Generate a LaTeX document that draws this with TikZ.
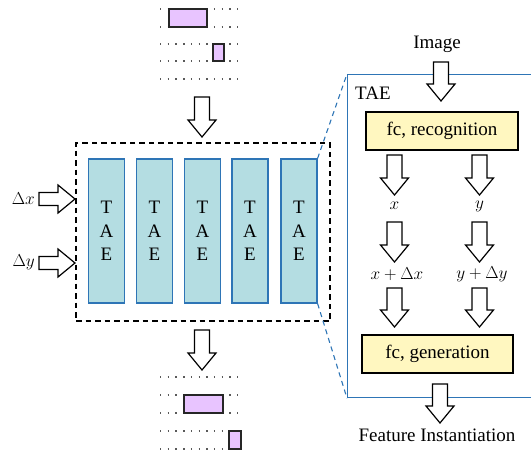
\documentclass[tikz,border=0pt]{standalone}
\usepackage{fontspec}
\setmainfont{Liberation Serif}
\definecolor{taeblue}{RGB}{46,117,182}
\definecolor{taefill}{RGB}{180,221,226}
\definecolor{fcfill}{RGB}{255,247,192}
\definecolor{pinkfill}{RGB}{232,196,255}
\newcommand\darr[4]{%
  \draw[blk] (#2-7.5,#3) -- (#2+7.5,#3) -- (#2+7.5,#3+#4-17) -- (#2+14,#3+#4-17) -- (#2,#3+#4) -- (#2-14,#3+#4-17) -- (#2-7.5,#3+#4-17) -- cycle;
  \coordinate (#1) at (#2,#3);}
\newcommand\rarr[4]{%
  \draw[blk] (#2,#3-6.5) -- (#2+#4-17,#3-6.5) -- (#2+#4-17,#3-14) -- (#2+#4,#3) -- (#2+#4-17,#3+14) -- (#2+#4-17,#3+6.5) -- (#2,#3+6.5) -- cycle;
  \coordinate (#1) at (#2,#3);}
\begin{document}
\begin{tikzpicture}[x=1pt,y=-1pt,
  font=\fontsize{19}{23}\selectfont,
  blk/.style={draw=black, line width=1.2pt, fill=white, line join=miter},
  taebox/.style={draw=taeblue, line width=1.2pt, fill=taefill, minimum width=36pt, minimum height=144pt, inner sep=0pt, align=center, font=\fontsize{19}{23.5}\selectfont},
  fcbox/.style={draw=black, line width=1.1pt, fill=fcfill, minimum width=152pt, minimum height=38pt, inner sep=0pt},
  dotrow/.style={draw=black!65, line width=1.4pt, dash pattern=on 1.4pt off 6.3pt},
  pinkrect/.style={draw=black!85, line width=1.5pt, fill=pinkfill},
  lbl/.style={inner sep=0pt}]
\useasboundingbox (0,0) rectangle (531,450);

% top position pattern
\foreach \yy [count=\i] in {9,27,44,61,79}{
  \coordinate (tl\i) at (160,\yy); \coordinate (tr\i) at (242,\yy);
  \draw[dotrow] (tl\i) -- (tr\i);}
\node[pinkrect, minimum width=38pt, minimum height=18pt, inner sep=0pt] (p1) at (188,18) {};
\node[pinkrect, minimum width=11pt, minimum height=17pt, inner sep=0pt] (p2) at (218.5,52.5) {};

% bottom position pattern
\foreach \yy [count=\i] in {377,395,413,431,449}{
  \coordinate (bl\i) at (160,\yy); \coordinate (br\i) at (242,\yy);
  \draw[dotrow] (bl\i) -- (br\i);}
\node[pinkrect, minimum width=39pt, minimum height=18pt, inner sep=0pt] (p3) at (203.5,404) {};
\node[pinkrect, minimum width=12pt, minimum height=18pt, inner sep=0pt] (p4) at (235,440) {};

% dashed container
\node[draw=black, line width=1.3pt, dash pattern=on 5.5pt off 4pt, minimum width=254pt, minimum height=178pt, inner sep=0pt] (db) at (203,232) {};

% TAE capsules
\foreach \xx [count=\i] in {106.5,154.5,202.5,250,299}{
  \node[taebox] (t\i) at (\xx,231) {T\\A\\E};}

% arrows around dashed box
\darr{atop}{202}{97}{40}
\darr{abot}{202}{330}{40}
\rarr{adx}{39}{199}{36}
\rarr{ady}{39}{263}{36}
\node[lbl, anchor=east] (ldx) at (35,199) {$\Delta x$};
\node[lbl, anchor=east] (ldy) at (35,262) {$\Delta y$};

% TAE detail box
\node[draw=taeblue, line width=1.2pt, minimum width=186pt, minimum height=323pt, inner sep=0pt, anchor=north west] (tae) at (347,74) {};
\node[lbl, anchor=west] (ltae) at (355,93) {TAE};
\draw[taeblue, line width=1.1pt, dash pattern=on 5pt off 4pt] (t5.north east) -- (tae.north west);
\draw[taeblue, line width=1.1pt, dash pattern=on 5pt off 4pt] (t5.south east) -- (tae.south west);

\node[lbl] (img) at (437,44) {Image};
\darr{aimg}{441}{62}{39}
\node[fcbox] (rec) at (442,131) {fc, recognition};
\darr{arx}{394.5}{155}{40}
\darr{ary}{479.5}{155}{40}
\node[lbl] (vx) at (394.5,206) {$x$};
\node[lbl] (vy) at (479.5,206) {$y$};
\darr{adx2}{394.5}{222}{40}
\darr{ady2}{479.5}{222}{40}
\node[lbl] (vxd) at (397,274) {$x+\Delta x$};
\node[lbl] (vyd) at (482,274) {$y+\Delta y$};
\darr{agx}{394.5}{288}{39}
\darr{agy}{479.5}{288}{39}
\node[fcbox, minimum width=151pt] (gen) at (437.5,354) {fc, generation};
\darr{aout}{440}{384}{39}
\node[lbl] (feat) at (437,435) {Feature Instantiation};
\end{tikzpicture}
\end{document}
